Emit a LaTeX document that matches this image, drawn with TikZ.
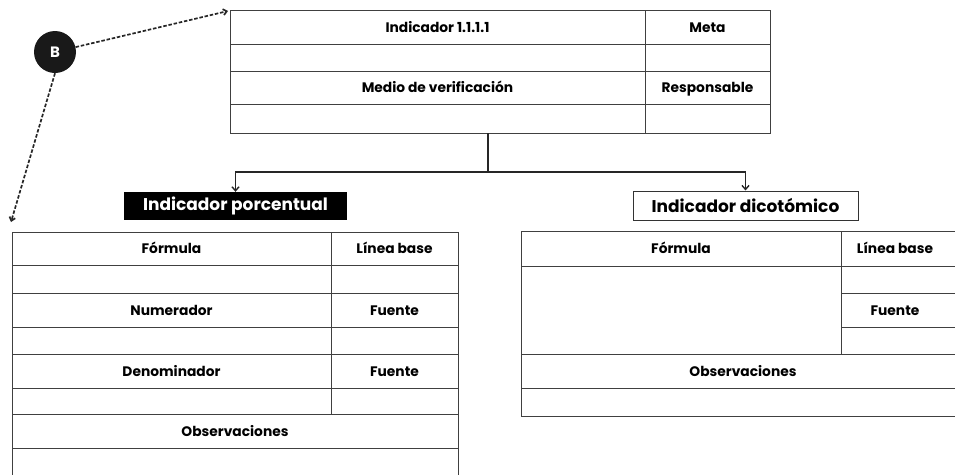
\documentclass[tikz,border=0pt]{standalone}
\usepackage{fontspec}
\setmainfont{Poppins}
\usetikzlibrary{arrows.meta}
\tikzset{
    grid line/.style={draw=black!75, line width=1pt},
    cell/.style={font=\fontsize{13.8}{16}\selectfont\bfseries, inner sep=0pt, text height=10pt, text depth=0pt},
    typebox/.style={minimum width=223pt, minimum height=28pt, inner sep=0pt, font=\fontsize{17}{19}\selectfont\bfseries},
    link/.style={black!85, line width=1.7pt, dash pattern=on 3.5pt off 1.8pt, -{Straight Barb[length=3.5pt,width=6pt]}},
    branch/.style={black!85, line width=1.4pt, -{Straight Barb[length=4pt,width=7pt]}}
}
\begin{document}
\begin{tikzpicture}[x=1pt,y=-1pt]
    \useasboundingbox (0,0) rectangle (955,474);
    \clip (0,0) rectangle (955,474);
    %badge
    \node[circle, fill=black!90, text=white, minimum size=42pt, inner sep=0pt, font=\fontsize{15}{17}\selectfont\bfseries] (B) at (55,52) {B};
    %top table
    \draw[grid line] (230,10) rectangle (770,133);
    \foreach \y in {44,71,104}
        {%
            \draw[grid line] (230,\y) -- (770,\y);
        }
    \draw[grid line] (645,10) -- (645,133);
    \node[cell] (ind) at (437.5,27) {Indicador 1.1.1.1};
    \node[cell] (meta) at (707.5,27) {Meta};
    \node[cell] (medio) at (437.5,87.5) {Medio de verificación};
    \node[cell] (resp) at (707.5,87.5) {Responsable};
    \coordinate (topcorner) at (228,11);
    \coordinate (topfoot) at (488,133);
    \coordinate (leftcorner) at (11,222);
    %type boxes
    \node[typebox, fill=black, text=white] (porc) at (235.5,206) {Indicador porcentual};
    \node[typebox, draw=black!80, line width=1pt, fill=white, minimum width=225pt, minimum height=29pt] (dico) at (745.5,205.5) {Indicador dicotómico};
    %left table
    \draw[grid line] (12,232) rectangle (458,490);
    \foreach \y in {265,293,327,354,388,414,448}
        {%
            \draw[grid line] (12,\y) -- (458,\y);
        }
    \draw[grid line] (331,232) -- (331,414);
    \node[cell] (lform) at (171.5,248.5) {Fórmula};
    \node[cell] (lbase) at (394.5,248.5) {Línea base};
    \node[cell] (lnum) at (171.5,310) {Numerador};
    \node[cell] (lfnum) at (394.5,310) {Fuente};
    \node[cell] (lden) at (171.5,371) {Denominador};
    \node[cell] (lfden) at (394.5,371) {Fuente};
    \node[cell] (lobs) at (235,431) {Observaciones};
    %right table
    \draw[grid line] (521,231) rectangle (990,416);
    \foreach \y in {266,354,388}
        {%
            \draw[grid line] (521,\y) -- (990,\y);
        }
    \foreach \y in {293,327}
        {%
            \draw[grid line] (841,\y) -- (990,\y);
        }
    \draw[grid line] (841,231) -- (841,354);
    \node[cell] (rform) at (681,248.5) {Fórmula};
    \node[cell] (rbase) at (895,248.5) {Línea base};
    \node[cell] (rfue) at (895,310) {Fuente};
    \node[cell] (robs) at (743,371) {Observaciones};
    %connectors
    \draw[link] (B) -- (topcorner);
    \draw[link] (B.south) -- (leftcorner);
    \draw[branch] (topfoot) -- ++(0,39) -| (porc);
    \draw[branch] (topfoot) -- ++(0,39) -| (dico);
\end{tikzpicture}
\end{document}
